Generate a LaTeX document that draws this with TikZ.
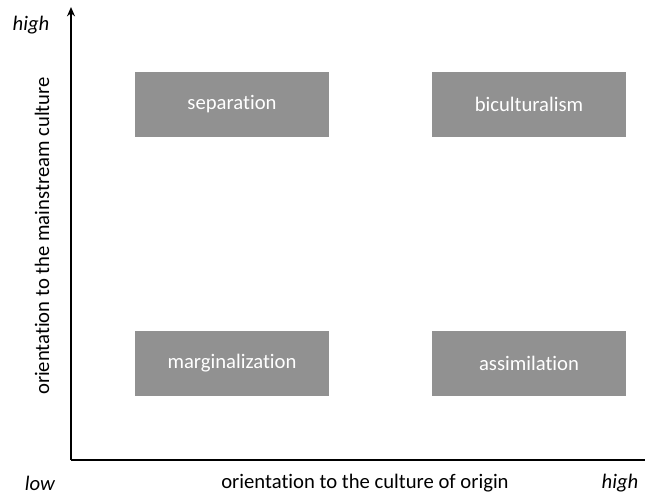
\documentclass[tikz,border=0pt]{standalone}
\usepackage{fontspec}
\setmainfont[Ligatures=NoCommon]{Carlito}
\usetikzlibrary{arrows.meta}
\tikzstyle{quadrant}=[fill=black!43,text=white,minimum width=145.5pt,minimum height=48.75pt,inner sep=0pt,font=\fontsize{15.5}{18}\selectfont]
\tikzstyle{axis} = [draw,line width=1.6pt]
\tikzstyle{axislabel} = [inner sep=1pt,font=\fontsize{15.5}{18}\selectfont]
\tikzstyle{endlabel} = [inner sep=1pt,font=\fontsize{15.5}{18}\selectfont\itshape]

\begin{document}
\begin{tikzpicture}[x=0.75pt,y=-0.75pt]
	\useasboundingbox (0,0) rectangle (645,494);
	% axes
	\coordinate (origin) at (71,460);
	\coordinate (top) at (71,7);
	\coordinate (right) at (645,460);
	\path[axis,-{Stealth[length=7pt,width=6pt]}] (origin) -- (top);
	\path[axis] (origin) -- (right);

	% the four quadrants
	\foreach \pos/\name/\txt in {{(232,104.5)/sep/separation}, {(529,104.5)/bic/biculturalism},
								{(232,363.5)/mar/marginalization}, {(529,363.5)/ass/assimilation}}
	\node[quadrant] (\name) at \pos {\txt};

	% axis labels
	\node[endlabel] (yhigh) at (31,25) {high};
	\node[endlabel] (xlow) at (40,483) {low};
	\node[endlabel] (xhigh) at (620,483) {high};
	\node[axislabel] (xlabel) at (365,483) {orientation to the culture of origin};
	\node[axislabel,rotate=90] (ylabel) at (42,236) {orientation to the mainstream culture};
\end{tikzpicture}
\end{document}
